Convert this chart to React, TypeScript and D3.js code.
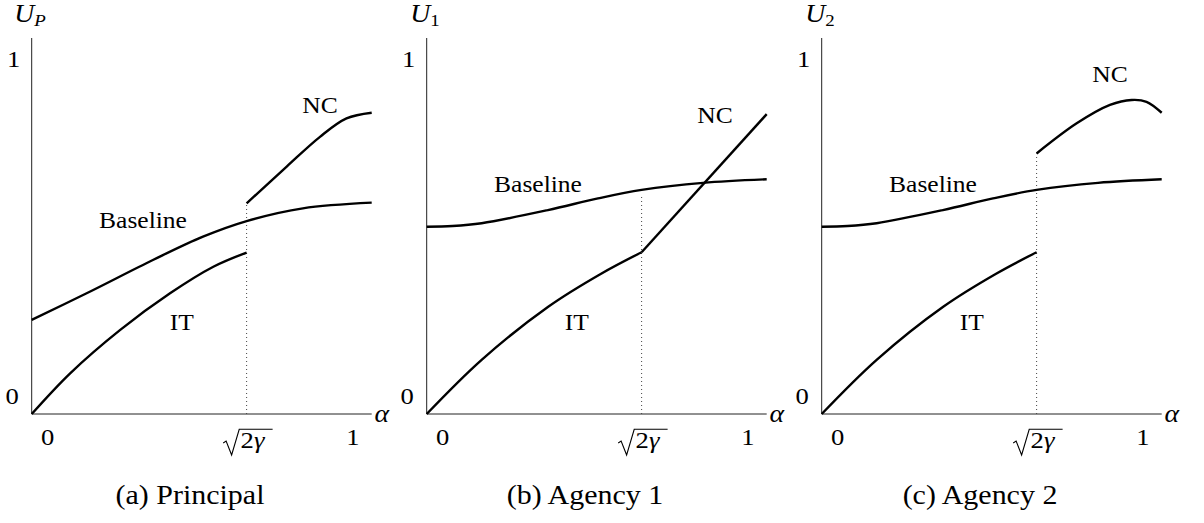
import React from "react";
import * as d3 from "d3";

const W = 1204;
const H = 523;

// (a) Principal
const principalBaselineAlpha = [0, 0.17, 0.375, 0.53, 0.665, 0.839, 1.052];
const principalBaselineU = [0.266, 0.341, 0.435, 0.501, 0.545, 0.581, 0.597];
const principalITAlpha = [0, 0.119, 0.273, 0.428, 0.562, 0.665];
const principalITU = [0, 0.115, 0.237, 0.341, 0.416, 0.456];
const principalNCAlpha = [0.665, 0.789, 0.892, 0.974, 1.052];
const principalNCU = [0.595, 0.699, 0.783, 0.835, 0.851];

// (b) Agency 1
const agency1BaselineAlpha = [0, 0.08, 0.17, 0.375, 0.53, 0.665, 0.855, 1.052];
const agency1BaselineU = [0.529, 0.531, 0.539, 0.576, 0.609, 0.633, 0.653, 0.663];
const agency1ITAlpha = [0, 0.17, 0.376, 0.541, 0.665];
const agency1ITU = [0, 0.153, 0.303, 0.397, 0.457];
const agency1NCAlpha = [0.665, 1.052];
const agency1NCU = [0.457, 0.847];

// (c) Agency 2
const agency2BaselineAlpha = [0, 0.08, 0.17, 0.375, 0.53, 0.665, 0.855, 1.052];
const agency2BaselineU = [0.529, 0.531, 0.539, 0.576, 0.609, 0.633, 0.653, 0.663];
const agency2ITAlpha = [0, 0.17, 0.376, 0.541, 0.665];
const agency2ITU = [0, 0.153, 0.303, 0.397, 0.457];
const agency2NCAlpha = [0.665, 0.789, 0.892, 0.959, 1.005, 1.052];
const agency2NCU = [0.736, 0.821, 0.873, 0.887, 0.882, 0.851];

// threshold sqrt(2γ) and the height the dotted guide reaches in each panel
const threshold = 0.665;
const guideTops = [0.595, 0.615, 0.736];

const captions = ["(a) Principal", "(b) Agency 1", "(c) Agency 2"];
const yLabelSubs = ["P", "1", "2"];
const xTickLabels = ["0", "1"];
const yTickLabels = ["0", "1"];

const alphaMax = 1.052;

const zip = (xs: number[], ys: number[]) => xs.map((a, i) => [a, ys[i]] as [number, number]);

const panels = [
  {
    baseline: zip(principalBaselineAlpha, principalBaselineU),
    it: zip(principalITAlpha, principalITU),
    nc: zip(principalNCAlpha, principalNCU),
    ncLabelY: 105,
    baselineLabelY: 220,
  },
  {
    baseline: zip(agency1BaselineAlpha, agency1BaselineU),
    it: zip(agency1ITAlpha, agency1ITU),
    nc: zip(agency1NCAlpha, agency1NCU),
    ncLabelY: 114.5,
    baselineLabelY: 184,
  },
  {
    baseline: zip(agency2BaselineAlpha, agency2BaselineU),
    it: zip(agency2ITAlpha, agency2ITU),
    nc: zip(agency2NCAlpha, agency2NCU),
    ncLabelY: 74,
    baselineLabelY: 184,
  },
];

const serif = "Liberation Serif, DejaVu Serif, serif";
const labelSize = 23;
// the figure's lettering is set slightly wide
const stretch = 1.11;

function T({
  x,
  y,
  size = labelSize,
  anchor = "middle",
  italic = false,
  children,
}: {
  x: number;
  y: number;
  size?: number;
  anchor?: "start" | "middle" | "end";
  italic?: boolean;
  children: React.ReactNode;
}) {
  return (
    <text
      transform={`translate(${x},${y}) scale(${stretch},1)`}
      fontSize={size}
      textAnchor={anchor}
      fontStyle={italic ? "italic" : "normal"}
      fontFamily={serif}
    >
      {children}
    </text>
  );
}

function Panel({ index }: { index: number }) {
  const p = panels[index];
  const x = d3.scaleLinear().domain([0, alphaMax]).range([0, 340]);
  const y = d3.scaleLinear().domain([0, 1]).range([414, 60]);
  const line = d3
    .line<[number, number]>()
    .x((d) => x(d[0]))
    .y((d) => y(d[1]))
    .curve(d3.curveCatmullRom.alpha(0.5));
  const tx = x(threshold);
  const curveStyle = { fill: "none", stroke: "#000", strokeWidth: 2.4, strokeLinecap: "butt" as const };

  return (
    <g transform={`translate(${31.7 + index * 395},0)`}>
      {/* axes */}
      <line x1={0} y1={38} x2={0} y2={y(0)} stroke="#222" strokeWidth={1} />
      <line x1={0} y1={y(0)} x2={x(alphaMax)} y2={y(0)} stroke="#222" strokeWidth={1} />
      {/* dotted guide at sqrt(2γ) */}
      <line
        x1={tx}
        y1={y(0)}
        x2={tx}
        y2={y(guideTops[index])}
        stroke="#444"
        strokeWidth={1}
        strokeDasharray="1 3"
      />
      {/* curves */}
      <path d={line(p.baseline) ?? ""} style={curveStyle} />
      <path d={line(p.it) ?? ""} style={curveStyle} />
      <path d={line(p.nc) ?? ""} style={curveStyle} />

      {/* curve labels */}
      <T x={288.3} y={p.ncLabelY + 8}>NC</T>
      <T x={111.3} y={p.baselineLabelY + 7.5}>Baseline</T>
      <T x={150} y={330}>IT</T>

      {/* y tick labels */}
      <T x={-18} y={y(1) + 7} size={24}>{yTickLabels[1]}</T>
      <T x={-19.5} y={y(0) - 10} size={24}>{yTickLabels[0]}</T>

      {/* x tick labels */}
      <T x={16} y={445} size={24}>{xTickLabels[0]}</T>
      <T x={x(1) - 2} y={445} size={24}>{xTickLabels[1]}</T>
      <g transform={`translate(${tx},0)`}>
        <path
          d="M-23.4,443 L-20.5,441 L-15,455 L-7.4,429.3 L26,429.3"
          fill="none"
          stroke="#000"
          strokeWidth={1.1}
          strokeLinejoin="miter"
        />
        <T x={-6} y={448} anchor="start" size={24}>
          <tspan>2</tspan>
          <tspan fontStyle="italic">γ</tspan>
        </T>
      </g>

      {/* axis titles */}
      <T x={x(alphaMax) + 10} y={422} size={25} italic>α</T>
      <T x={-1.7} y={22} size={25}>
        <tspan fontStyle="italic">U</tspan>
        <tspan fontSize={17} dy={4} fontStyle={yLabelSubs[index] === "P" ? "italic" : "normal"}>
          {yLabelSubs[index]}
        </tspan>
      </T>

      {/* caption */}
      <T x={158.3} y={504} size={27}>{captions[index]}</T>
    </g>
  );
}

export default function App() {
  return (
    <svg
      width={W}
      height={H}
      viewBox={`0 0 ${W} ${H}`}
      style={{ display: "block", position: "absolute", left: 0, top: 0, background: "#fff" }}
    >
      <rect width={W} height={H} fill="#fff" />
      {panels.map((_, i) => (
        <Panel key={i} index={i} />
      ))}
    </svg>
  );
}
